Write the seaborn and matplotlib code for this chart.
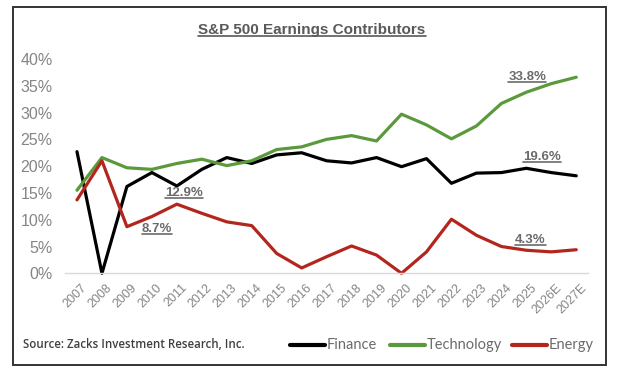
import pandas as pd
import numpy as np
import matplotlib.pyplot as plt
import matplotlib.transforms as mtransforms
import seaborn as sns
from matplotlib.lines import Line2D
from matplotlib.patches import Rectangle

years = ['2007', '2008', '2009', '2010', '2011', '2012', '2013', '2014', '2015', '2016',
         '2017', '2018', '2019', '2020', '2021', '2022', '2023', '2024', '2025', '2026E', '2027E']
finance = [22.7, 0.0, 16.2, 18.8, 16.3, 19.4, 21.6, 20.5, 22.1, 22.5,
           21.0, 20.6, 21.6, 19.9, 21.4, 16.8, 18.7, 18.8, 19.6, 18.8, 18.2]
technology = [15.5, 21.6, 19.7, 19.4, 20.5, 21.3, 20.1, 21.0, 23.1, 23.6,
              25.0, 25.7, 24.7, 29.7, 27.7, 25.1, 27.5, 31.7, 33.8, 35.4, 36.6]
energy = [13.7, 21.0, 8.7, 10.6, 12.9, 11.2, 9.6, 8.9, 3.7, 1.0,
          3.1, 5.1, 3.4, 0.0, 4.0, 10.1, 7.1, 5.0, 4.3, 4.0, 4.4]
sectors = ['Finance', 'Technology', 'Energy']
colors = ['#000000', '#5b9a3c', '#b3261e']

# data labels: (text, x index, y value)
callouts = [('33.8%', 18.04, 36.6), ('19.6%', 18.64, 21.7), ('4.3%', 18.16, 6.2),
            ('12.9%', 4.28, 15.0), ('8.7%', 3.2, 8.3)]

df = pd.DataFrame({'Year': years * 3,
                   'Share': finance + technology + energy,
                   'Sector': np.repeat(sectors, len(years))})
df['x'] = list(range(len(years))) * 3

sns.set_style('white')
plt.rcParams['font.family'] = ['Liberation Sans', 'DejaVu Sans']

fig = plt.figure(figsize=(6.2, 3.75), dpi=100)
ax = fig.add_axes([65 / 620, 1 - 273.3 / 375, 523 / 620, 214.3 / 375])

sns.lineplot(data=df, x='x', y='Share', hue='Sector', palette=colors,
             linewidth=2.3, legend=False, ax=ax, clip_on=False)

ax.set_xlim(-0.48, 20.47)
ax.set_ylim(0, 40)
ax.set_yticks(range(0, 45, 5))
ax.set_yticklabels([f'{v}%' for v in range(0, 45, 5)], fontsize=11.5, color='#858585')
ax.set_xticks(range(len(years)))
ax.set_xticklabels(years, rotation=45, ha='right', rotation_mode='anchor',
                   fontsize=9, color='#858585')
ax.tick_params(axis='both', length=0)
ax.tick_params(axis='y', pad=9)
ax.tick_params(axis='x', pad=6)
# nudge the rotated year labels right, as in the original
shift = mtransforms.ScaledTranslation(4 / 100, 0, fig.dpi_scale_trans)
for lab in ax.get_xticklabels():
    lab.set_transform(lab.get_transform() + shift)
ax.set_xlabel('')
ax.set_ylabel('')
for s in ['top', 'right', 'left']:
    ax.spines[s].set_visible(False)
ax.spines['bottom'].set_color('#d9d9d9')
ax.spines['bottom'].set_linewidth(1)
ax.patch.set_alpha(0)

texts = []
t = fig.text(312 / 620, 1 - 30 / 375, 'S&P 500 Earnings Contributors', ha='center',
             va='center', fontsize=11, fontweight='bold', color='#595959')
texts.append(t)
for label, xv, yv in callouts:
    texts.append(ax.text(xv, yv, label, ha='center', va='center', fontsize=9.5,
                         fontweight='bold', color='#6b6b6b'))

fig.text(23 / 620, 1 - 345 / 375, 'Source: Zacks Investment Research, Inc.',
         ha='left', va='center', fontsize=8.3, color='#404040', family='Open Sans',
         fontweight='semibold')

# legend: short thick line followed by the name
leg_x = [(290, 325, 327), (390, 425, 427), (512, 547, 549)]
for (x0, x1, xt), name, c in zip(leg_x, sectors, colors):
    fig.lines.append(Line2D([x0 / 620, x1 / 620], [1 - 345 / 375] * 2,
                            transform=fig.transFigure, color=c, linewidth=3))
    fig.text(xt / 620, 1 - 345 / 375, name, ha='left', va='center', fontsize=10.5,
             family='Lato', color='#6b6b6b')

fig.patches.append(Rectangle((13 / 620, 1 - 365 / 375), 593 / 620, 358 / 375,
                             transform=fig.transFigure, fill=False,
                             edgecolor='#333333', linewidth=1.4))

# underline title and data labels
fig.canvas.draw()
r = fig.canvas.get_renderer()
inv = fig.transFigure.inverted()
for t in texts:
    bb = t.get_window_extent(r)
    (x0, y0), (x1, _) = inv.transform([(bb.x0, bb.y0 + 1), (bb.x1, bb.y0 + 1)])
    fig.lines.append(Line2D([x0, x1], [y0, y0], transform=fig.transFigure,
                            color=t.get_color(), linewidth=1.2))

plt.savefig('out.png', dpi=100)
